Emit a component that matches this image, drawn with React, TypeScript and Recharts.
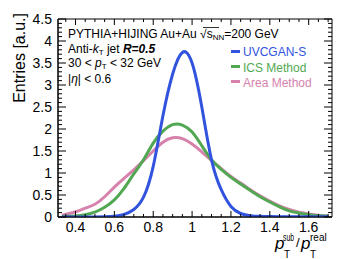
import React from 'react';
import { LineChart, Line, XAxis, YAxis, ReferenceArea } from 'recharts';

const W = 357;
const H = 259;
const TOP = 19;
const RIGHT = 332;
const FONT = '"Liberation Sans", Arial, Helvetica, sans-serif';

// pT(sub)/pT(real) grid
const xs = [0.33, 0.4, 0.45, 0.5, 0.55, 0.6, 0.65, 0.7, 0.75, 0.8, 0.85, 0.9, 0.95, 1.0, 1.05, 1.1, 1.15, 1.2, 1.25, 1.3, 1.35, 1.4, 1.45, 1.5, 1.55, 1.6, 1.65, 1.7];
const uvcgan = [0, 0, 0, 0.002, 0.006, 0.02, 0.06, 0.17, 0.45, 1.15, 2.3, 3.25, 3.74, 3.5, 2.5, 1.3, 0.62, 0.24, 0.08, 0.03, 0.015, 0.01, 0.008, 0.006, 0.005, 0.005, 0.004, 0.004];
const ics = [0.01, 0.02, 0.05, 0.11, 0.22, 0.39, 0.65, 0.98, 1.3, 1.68, 1.95, 2.1, 2.09, 1.93, 1.62, 1.3, 1.08, 0.9, 0.75, 0.6, 0.46, 0.34, 0.23, 0.14, 0.09, 0.05, 0.03, 0.015];
const areaMethod = [0.04, 0.12, 0.2, 0.29, 0.46, 0.68, 0.88, 1.07, 1.28, 1.5, 1.7, 1.8, 1.78, 1.66, 1.48, 1.28, 1.1, 0.92, 0.77, 0.62, 0.48, 0.36, 0.25, 0.17, 0.11, 0.07, 0.04, 0.02];

const xMajor = [0.4, 0.6, 0.8, 1, 1.2, 1.4, 1.6];
const yMajor = [0, 0.5, 1, 1.5, 2, 2.5, 3, 3.5, 4, 4.5];
const xTicks = Array.from({ length: 28 }, (_, i) => +(0.35 + i * 0.05).toFixed(2));
const yTicks = Array.from({ length: 46 }, (_, i) => +(i * 0.1).toFixed(1));

const data = xs.map((x, i) => ({ x, uvcgan: uvcgan[i], ics: ics[i], area: areaMethod[i] }));

const isIn = (list: number[], v: number) => list.some((m) => Math.abs(m - v) < 1e-6);

const XTick = (props: any) => {
  const { x, y, payload } = props;
  const major = isIn(xMajor, payload.value);
  const len = major ? 6 : 3;
  return (
    <g>
      <line x1={x} x2={x} y1={y} y2={y - len} stroke="#000" />
      <line x1={x} x2={x} y1={TOP} y2={TOP + len} stroke="#000" />
      {major && (
        <text x={x} y={y + 15} textAnchor="middle" fontSize={14} fontFamily={FONT} fill="#000">
          {payload.value}
        </text>
      )}
    </g>
  );
};

const YTick = (props: any) => {
  const { x, y, payload } = props;
  const major = isIn(yMajor, payload.value);
  const len = major ? 8 : 4;
  return (
    <g>
      <line x1={x} x2={x + len} y1={y} y2={y} stroke="#000" />
      <line x1={RIGHT} x2={RIGHT - len} y1={y} y2={y} stroke="#000" />
      {major && (
        <text x={x - 6} y={y + 5} textAnchor="end" fontSize={14} fontFamily={FONT} fill="#000">
          {payload.value}
        </text>
      )}
    </g>
  );
};

const BLUE = '#3153de';
const GREEN = '#52a852';
const PINK = '#d682ac';

export default function App() {
  return (
    <div style={{ position: 'absolute', left: 0, top: 0, width: W, height: H, background: '#fff' }}>
      <LineChart width={W} height={H} data={data} margin={{ top: TOP, right: W - RIGHT, left: 0, bottom: 0 }}>
        <XAxis
          dataKey="x"
          type="number"
          domain={[0.31, 1.72]}
          allowDataOverflow
          ticks={xTicks}
          interval={0}
          tick={<XTick />}
          tickSize={0}
          tickMargin={0}
          tickLine={false}
          axisLine={{ stroke: '#000' }}
          height={42}
        />
        <YAxis
          type="number"
          domain={[0, 4.5]}
          allowDataOverflow
          ticks={yTicks}
          interval={0}
          tick={<YTick />}
          tickSize={0}
          tickMargin={0}
          tickLine={false}
          axisLine={{ stroke: '#000' }}
          width={58}
        />
        <ReferenceArea x1={0.31} x2={1.72} y1={0} y2={4.5} fill="none" stroke="#000" strokeWidth={1} />
        <Line type="natural" dataKey="area" stroke={PINK} strokeWidth={3} dot={false} isAnimationActive={false} />
        <Line type="natural" dataKey="ics" stroke={GREEN} strokeWidth={3} dot={false} isAnimationActive={false} />
        <Line type="natural" dataKey="uvcgan" stroke={BLUE} strokeWidth={3} dot={false} isAnimationActive={false} />
      </LineChart>
      <svg width={W} height={H} style={{ position: 'absolute', left: 0, top: 0, pointerEvents: 'none' }} fontFamily={FONT}>
        {/* y title */}
        <text transform="translate(25,13) rotate(-90)" textAnchor="end" fontSize={16} fill="#000">
          Entries [a.u.]
        </text>
        {/* x title */}
        <g fill="#000">
          <text x={275} y={249} fontSize={17} fontStyle="italic">p</text>
          <text x={283} y={241} fontSize={10} textLength={11} lengthAdjust="spacingAndGlyphs">sub</text>
          <text x={284} y={258} fontSize={10}>T</text>
          <text x={296} y={247} fontSize={13}>/</text>
          <text x={301} y={249} fontSize={17} fontStyle="italic">p</text>
          <text x={310} y={241} fontSize={10}>real</text>
          <text x={310} y={258} fontSize={10}>T</text>
        </g>
        {/* annotations */}
        <g fontSize={12} fill="#000">
          <text x={68} y={37.5}>
            PYTHIA+HIJING Au+Au √<tspan>s</tspan>
            <tspan fontSize={8} dy={2}>NN</tspan>
            <tspan dy={-2}>=200 GeV</tspan>
          </text>
          <line x1={203} x2={219} y1={27.5} y2={27.5} stroke="#000" strokeWidth={0.8} />
          <text x={68} y={53}>
            Anti-<tspan fontStyle="italic">k</tspan>
            <tspan fontSize={8} dy={2}>T</tspan>
            <tspan dy={-2}> jet </tspan>
            <tspan fontWeight="bold" fontStyle="italic">R=0.5</tspan>
          </text>
          <text x={68} y={67}>
            30 &lt; <tspan fontStyle="italic">p</tspan>
            <tspan fontSize={8} dy={2}>T</tspan>
            <tspan dy={-2}> &lt; 32 GeV</tspan>
          </text>
          <text x={68} y={83}>
            |<tspan fontStyle="italic">η</tspan>| &lt; 0.6
          </text>
        </g>
        {/* legend */}
        <g fontSize={12}>
          <line x1={231} x2={240} y1={51.5} y2={51.5} stroke={BLUE} strokeWidth={3} />
          <text x={243} y={56} fill={BLUE}>UVCGAN-S</text>
          <line x1={231} x2={240} y1={66.5} y2={66.5} stroke={GREEN} strokeWidth={3} />
          <text x={243} y={71.5} fill={GREEN}>ICS Method</text>
          <line x1={231} x2={240} y1={81.5} y2={81.5} stroke={PINK} strokeWidth={3} />
          <text x={243} y={87} fill={PINK}>Area Method</text>
        </g>
      </svg>
    </div>
  );
}
